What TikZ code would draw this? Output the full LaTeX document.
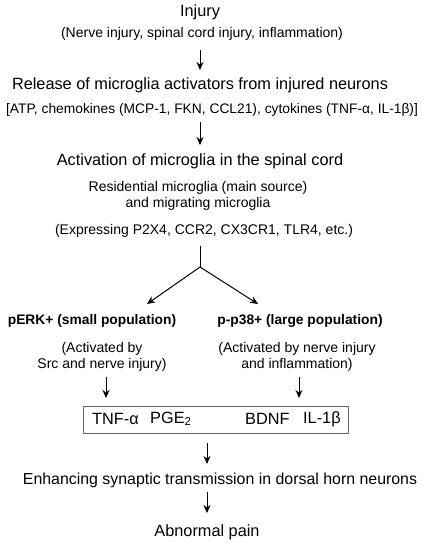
\documentclass[tikz,border=0pt]{standalone}
\usepackage{fontspec}
\setmainfont{Liberation Sans}
\usetikzlibrary{arrows.meta}
\begin{document}
\begin{tikzpicture}[x=1bp,y=-1bp,
  main/.style={inner sep=0pt,font=\fontsize{16.3bp}{19bp}\selectfont},
  sub/.style={inner sep=0pt,align=center,font=\fontsize{14bp}{16.5bp}\selectfont},
  bsub/.style={inner sep=0pt,font=\bfseries\fontsize{13.8bp}{16bp}\selectfont},
  arr/.style={line width=1bp,-{Stealth[length=8bp,width=7bp]}},
  ln/.style={line width=1bp},
  box/.style={draw=black!60,line width=1bp}]
\useasboundingbox (0,0) rectangle (426,543);

\node[main] (injury) at (200,12) {Injury};
\node[sub] (injsub) at (202,34) {(Nerve injury, spinal cord injury, inflammation)};
\coordinate (a1s) at (200,50);
\coordinate (a1e) at (200,70);
\draw[arr] (a1s) -- (a1e);

\node[main] (release) at (200,85) {Release of microglia activators from injured neurons};
\node[sub,font=\fontsize{13.8bp}{16bp}\selectfont] (relsub) at (212,110) {[ATP, chemokines (MCP-1, FKN, CCL21), cytokines (TNF-α, IL-1β)]};
\coordinate (a2s) at (200,122);
\coordinate (a2e) at (200,145);
\draw[arr] (a2s) -- (a2e);

\node[main] (activ) at (200,161) {Activation of microglia in the spinal cord};
\node[sub] (resid) at (198,196) {Residential microglia (main source)\\and migrating microglia};
\node[sub] (expr) at (204,231) {(Expressing P2X4, CCR2, CX3CR1, TLR4, etc.)};

\coordinate (bt) at (200,246);
\coordinate (bm) at (200,267);
\coordinate (bl) at (147,304);
\coordinate (br) at (258,304);
\draw[ln] (bt) -- (bm);
\draw[arr] (bm) -- (bl);
\draw[arr] (bm) -- (br);

\node[bsub] (perk) at (92,321) {pERK+ (small population)};
\node[bsub] (pp38) at (300,321) {p-p38+ (large population)};
\node[sub] (lact) at (102,357) {(Activated by\\Src and nerve injury)};
\node[sub] (ract) at (297,357) {(Activated by nerve injury\\and inflammation)};

\coordinate (a3s) at (106,377);
\coordinate (a3e) at (106,398);
\coordinate (a4s) at (299,377);
\coordinate (a4e) at (299,398);
\draw[arr] (a3s) -- (a3e);
\draw[arr] (a4s) -- (a4e);

\node[box,minimum width=265bp,minimum height=27bp,inner sep=0pt] (media) at (215.5,419.5) {};
\node[main,anchor=west] (tnf) at (92,419) {TNF-α};
\node[main,anchor=west] (pge) at (150,419) {PGE\textsubscript{2}};
\node[main,anchor=west] (bdnf) at (245,419) {BDNF};
\node[main,anchor=west] (il) at (303,419) {IL-1β};

\coordinate (a5s) at (207,443);
\coordinate (a5e) at (207,464);
\draw[arr] (a5s) -- (a5e);
\node[main,font=\fontsize{15.9bp}{19bp}\selectfont] (enh) at (220,480) {Enhancing synaptic transmission in dorsal horn neurons};
\coordinate (a6s) at (207,492);
\coordinate (a6e) at (207,513);
\draw[arr] (a6s) -- (a6e);
\node[main] (pain) at (207,532) {Abnormal pain};
\end{tikzpicture}
\end{document}
